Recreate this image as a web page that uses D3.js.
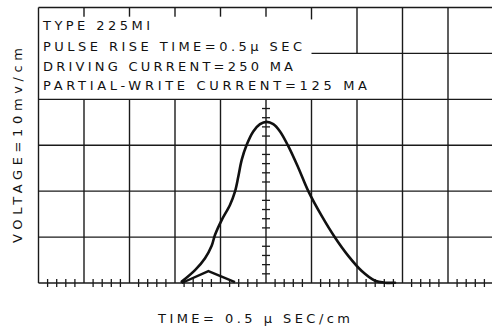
<!DOCTYPE html>
<html><head><meta charset="utf-8">
<script src="https://cdn.jsdelivr.net/npm/d3@7"></script>
<style>body{margin:0;background:#fff}svg{display:block}text{font-family:"DejaVu Sans",sans-serif;fill:#111}</style>
</head><body><svg id="c" width="492" height="328"></svg>
<script>
// Data: time in microseconds (0.5 us/cm), voltage in mV (10 mV/cm)
const mainTime    = [1.574,1.720,1.830,1.903,1.940,2.013,2.104,2.159,2.196,2.233,2.288,2.360,2.434,2.508,2.580,2.654,2.745,2.855,2.965,3.112,3.258,3.404,3.552,3.698,3.808,3.918];
const mainVoltage = [0.3,  2.8,  5.4,  8.1,  10.5, 13.7, 17.0, 19.9, 23.2, 26.8, 30.1, 33.0, 34.6, 35.1, 34.6, 33.0, 29.8, 25.1, 20.0, 14.6, 9.9,  5.9,  2.6,  0.5,  0.07, 0.07];
const smallTime    = [1.574,1.867,2.159];
const smallVoltage = [0,    2.6,  0.2];
const infoLines = ["TYPE 225MI","PULSE RISE TIME=0.5\u03BC SEC","DRIVING CURRENT=250 MA","PARTIAL-WRITE  CURRENT=125 MA"];
const xLabel = "TIME= 0.5 \u03BC SEC/cm";
const yLabel = "VOLTAGE=10mv/cm";

const svg = d3.select("#c");
const x = d3.scaleLinear().domain([0,5]).range([38.5,493.5]);
const y = d3.scaleLinear().domain([0,60]).range([283,7.5]);
const div = 0.5, vdiv = 10;
const ink = "#1a1a1a";
const g = svg.append("g");

// vertical grid segments [col, from, to] in divisions
const vSegs = [];
for (let i=1;i<=5;i++){ vSegs.push([i,5.8,6]); vSegs.push([i,0,4]); }
vSegs.push([6,5.74,6]); vSegs.push([6,0,4]);
vSegs.push([7,5,6]); vSegs.push([7,0,4]);
vSegs.push([8,0,6]); vSegs.push([9,0,6]); vSegs.push([0,0,6]); vSegs.push([10,0,6]);
g.selectAll("line.v").data(vSegs).join("line").attr("class","v")
 .attr("x1",d=>x(d[0]*div)).attr("x2",d=>x(d[0]*div))
 .attr("y1",d=>y(d[1]*vdiv)).attr("y2",d=>y(d[2]*vdiv))
 .attr("stroke",ink).attr("stroke-width",1.4);
// horizontal grid segments [row, from, to]
const hSegs = [[0,0,10],[1,0,10],[2,0,10],[3,0,10],[4,0,10],[5,6,10],[6,0,10]];
g.selectAll("line.h").data(hSegs).join("line").attr("class","h")
 .attr("y1",d=>y(d[0]*vdiv)).attr("y2",d=>y(d[0]*vdiv))
 .attr("x1",d=>x(d[1]*div)).attr("x2",d=>x(d[2]*div))
 .attr("stroke",ink).attr("stroke-width",1.4);

// minor ticks on baseline
const bt = d3.range(0,50).map(k=>k*0.2).filter(v=>Math.abs(v-Math.round(v))>0.01);
g.selectAll("line.bt").data(bt).join("line").attr("class","bt")
 .attr("x1",d=>x(d*div)).attr("x2",d=>x(d*div))
 .attr("y1",y(0)-4).attr("y2",y(0)+4).attr("stroke",ink).attr("stroke-width",1.3);
// minor ticks on center axis
const ct = d3.range(1,20).map(k=>k*0.2).filter(v=>Math.abs(v-Math.round(v))>0.01);
g.selectAll("line.ct").data(ct).join("line").attr("class","ct")
 .attr("y1",d=>y(d*vdiv)).attr("y2",d=>y(d*vdiv))
 .attr("x1",x(5*div)-4).attr("x2",x(5*div)+4).attr("stroke",ink).attr("stroke-width",1.3);

// curves
const mainData = mainTime.map((t,i)=>[t,mainVoltage[i]]);
const smallData = smallTime.map((t,i)=>[t,smallVoltage[i]]);
g.append("path").datum(mainData)
 .attr("d",d3.line().x(d=>x(d[0])).y(d=>y(d[1])).curve(d3.curveCatmullRom.alpha(0.5)))
 .attr("fill","none").attr("stroke","#111").attr("stroke-width",2.6).attr("stroke-linecap","round");
g.append("path").datum(smallData)
 .attr("d",d3.line().x(d=>x(d[0])).y(d=>y(d[1])))
 .attr("fill","none").attr("stroke","#111").attr("stroke-width",2.4).attr("stroke-linejoin","round");

// info text
const baselines = [30,51,71,90];
const widths = [107,259,250,324];
svg.selectAll("text.info").data(infoLines).join("text").attr("class","info")
 .attr("x",43).attr("y",(d,i)=>baselines[i]).attr("font-size",13)
 .attr("textLength",(d,i)=>widths[i]).attr("lengthAdjust","spacing").text(d=>d);

svg.append("text").attr("x",158).attr("y",323).attr("font-size",13)
 .attr("textLength",192).attr("lengthAdjust","spacing").text(xLabel);
svg.append("text").attr("transform","translate(22,243) rotate(-90)").attr("font-size",13)
 .attr("textLength",195).attr("lengthAdjust","spacing").text(yLabel);
</script></body></html>
